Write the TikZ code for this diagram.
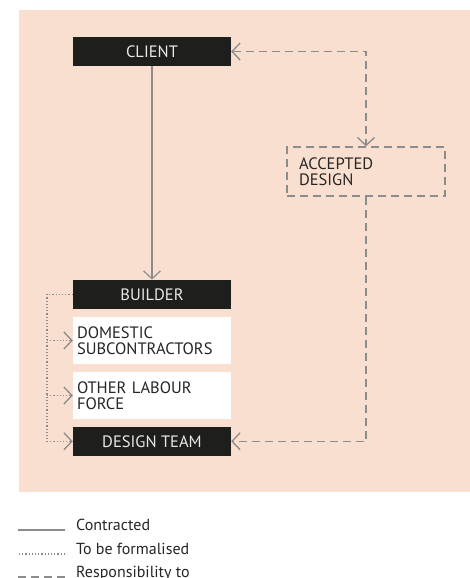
\documentclass[tikz,border=0pt]{standalone}
\usepackage{fontspec}
\setmainfont{PT Sans}
\usepackage{tikz}
\usetikzlibrary{positioning, arrows.meta}
\definecolor{PeachBG}{RGB}{249,223,207}
\definecolor{BoxBlack}{RGB}{30,30,28}
\definecolor{LineGray}{RGB}{140,140,140}
\definecolor{BoxText}{RGB}{232,232,232}
\definecolor{InkDark}{RGB}{38,38,38}
\tikzset{
  party/.style={fill=BoxBlack, text=BoxText, minimum width=158pt, minimum height=29pt,
    inner sep=0pt, font=\fontsize{16.5}{17}\selectfont},
  subbox/.style={fill=white, text=InkDark, minimum width=158pt, minimum height=46.5pt,
    text width=150pt, inner xsep=4pt, inner ysep=2pt, align=left, font=\fontsize{16.5}{16.5}\selectfont},
  dashbox/.style={draw=LineGray, line width=1.3pt, dash pattern=on 8pt off 5pt, text=InkDark,
    minimum width=158pt, minimum height=49pt, text width=134pt, inner xsep=12pt, inner ysep=2pt,
    align=left, font=\fontsize{16.5}{16}\selectfont},
  tip/.style={-{Straight Barb[length=8pt,width=17pt]}},
  contract/.style={draw=LineGray, line width=1.2pt},
  formal/.style={draw=LineGray, line width=1.3pt, dash pattern=on 1.2pt off 2pt},
  resp/.style={draw=LineGray, line width=1.3pt, dash pattern=on 8pt off 5pt},
  legtxt/.style={anchor=base west, inner sep=0pt, text=InkDark, font=\fontsize{16}{17}\selectfont},
}
\begin{document}
\begin{tikzpicture}[x=1pt, y=-1pt]
  \useasboundingbox (0,0) rectangle (470,578);
  \fill[PeachBG] (19,10) rectangle (470,492);

  % parties
  \node[party] (client) at (152,51.5) {CLIENT};
  \node[dashbox] (accepted) at (366,171.5) {ACCEPTED\\DESIGN};
  \node[party] (builder) at (152,294.3) {BUILDER};
  \node[subbox] (domestic) at (152,340.5) {DOMESTIC\\SUBCONTRACTORS};
  \node[subbox] (labour) at (152,395.5) {OTHER LABOUR\\FORCE};
  \node[party] (designteam) at (152,441.3) {DESIGN TEAM};
  \coordinate (rail) at (47,294.3);

  % links
  \draw[contract, tip] (client.south) -- (builder.north);
  \draw[resp, {Straight Barb[length=8pt,width=17pt]}-{Straight Barb[length=8pt,width=17pt]}]
    (client.east) -| (accepted.north);
  \draw[resp, tip] (accepted.south) |- (designteam.east);
  \draw[formal, tip] (builder.west) -- (rail) |- (designteam.west);
  \draw[formal, tip] (rail |- domestic.west) -- (domestic.west);
  \draw[formal, tip] (rail |- labour.west) -- (labour.west);

  % legend
  \node[legtxt] (lgcon) at (76,530) {Contracted};
  \node[legtxt] (lgform) at (76,554) {To be formalised};
  \node[legtxt] (lgresp) at (76,577) {Responsibility to};
  \draw[contract] ([xshift=-11pt]lgcon.base west) -- ++(-47,0);
  \draw[formal] ([xshift=-11pt]lgform.base west) -- ++(-47,0);
  \draw[resp] ([xshift=-11pt]lgresp.base west) -- ++(-47,0);
\end{tikzpicture}
\end{document}
